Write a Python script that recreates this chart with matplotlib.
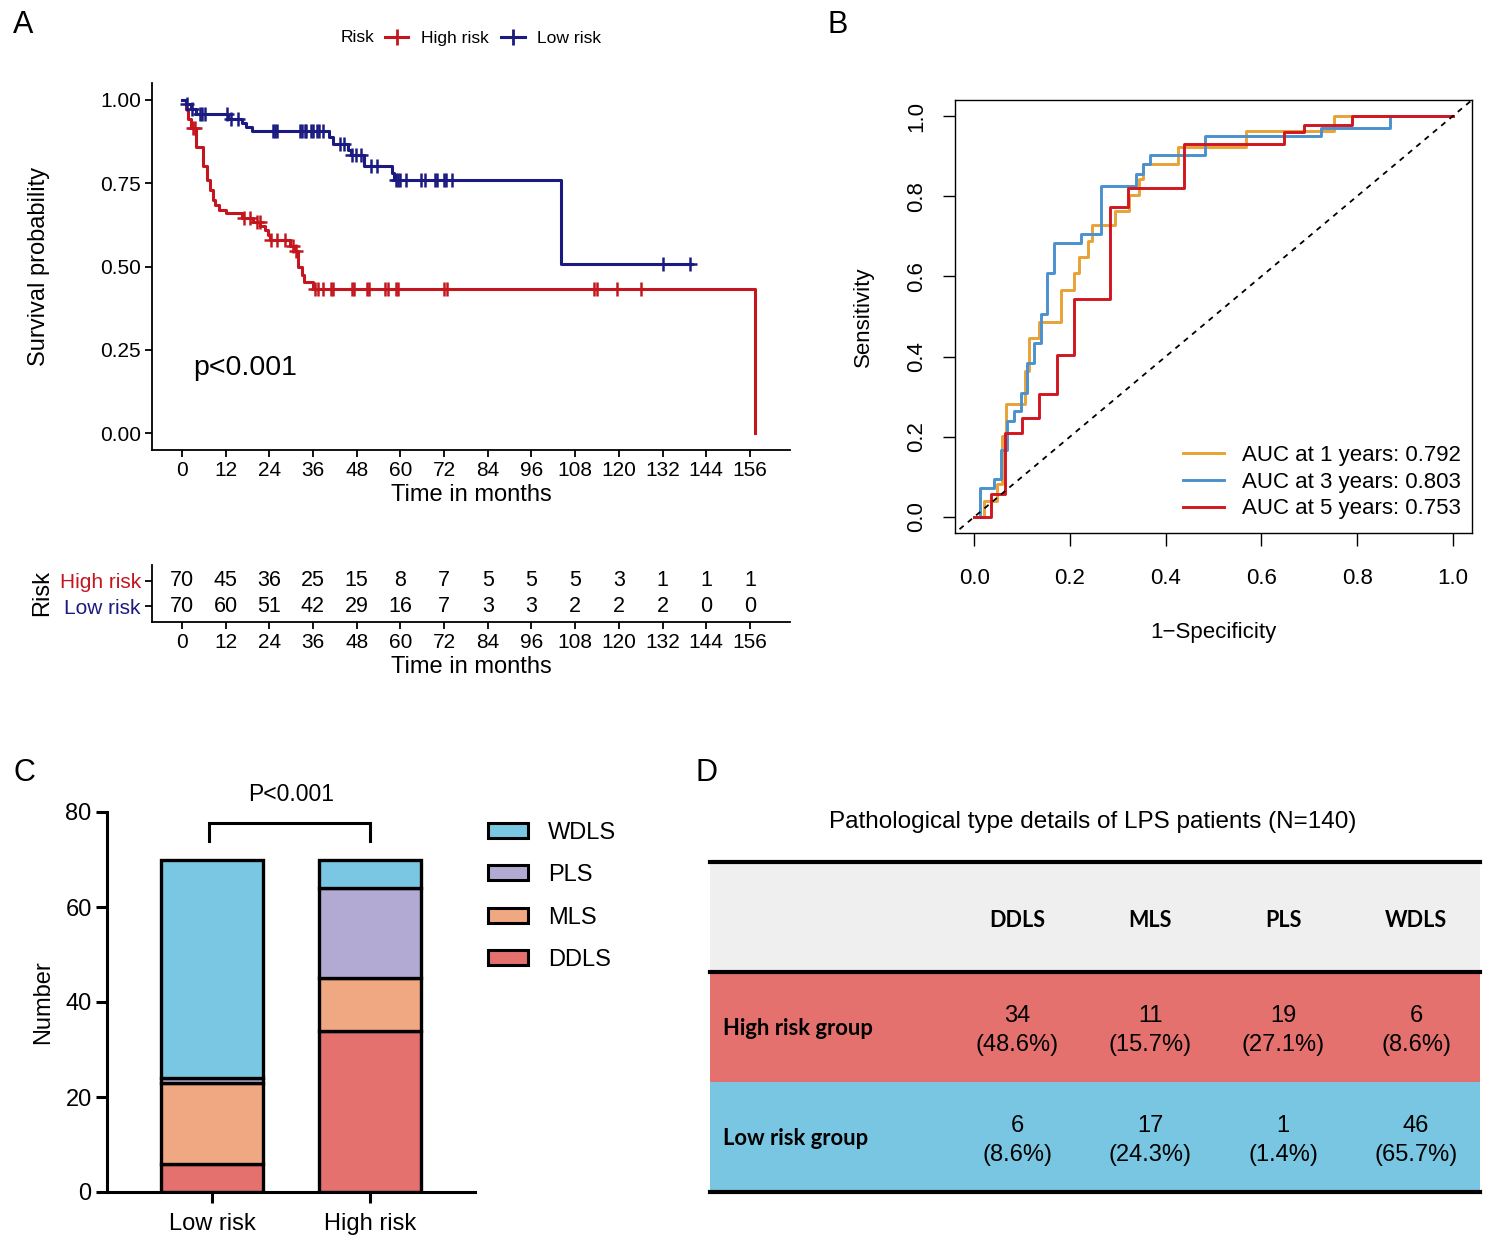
import numpy as np
import matplotlib
matplotlib.use("Agg")
import matplotlib.pyplot as plt
from matplotlib.lines import Line2D
from matplotlib.patches import Patch

plt.rcParams['font.family'] = ['Liberation Sans', 'DejaVu Sans']

# ---------------- Panel A: Kaplan-Meier data ----------------
month_ticks = list(range(0, 157, 12))

high_times = [0, 1.0, 1.8, 2.5, 4.0, 5.8, 7.0, 7.8, 8.5, 9.2, 10.3, 12.0, 16.5, 19.6,
              21.5, 22.8, 23.7, 24.3, 29.7, 31.2, 32.0, 32.9, 33.6, 36.0, 157.5]
high_surv = [1.0, 0.971, 0.943, 0.914, 0.857, 0.80, 0.76, 0.73, 0.70, 0.685, 0.67, 0.66,
             0.646, 0.632, 0.62, 0.61, 0.595, 0.58, 0.56, 0.545, 0.50, 0.475, 0.455, 0.434, 0.0]
high_censor = [3.0, 3.5, 17.0, 18.7, 20.5, 21.4, 24.6, 26.0, 28.3, 30.5, 31.4, 36.6, 37.3,
               38.8, 41.0, 41.6, 46.8, 47.3, 50.8, 51.3, 55.9, 56.5, 58.8, 59.3, 72.1, 72.8,
               113.2, 114.1, 119.6, 126.1]

low_times = [0, 1.2, 2.5, 3.8, 12.7, 16.4, 17.6, 19.3, 40.5, 41.4, 45.6, 46.5, 50.1,
             57.6, 58.2, 104.0, 140.0]
low_surv = [1.0, 0.986, 0.971, 0.957, 0.943, 0.929, 0.917, 0.906, 0.887, 0.866, 0.850,
            0.833, 0.80, 0.78, 0.759, 0.506, 0.506]
low_censor = [1.5, 2.8, 4.9, 5.6, 6.4, 12.3, 13.6, 15.5, 25.1, 25.7, 26.2, 32.5, 33.1, 33.7,
              34.2, 35.4, 35.9, 37.1, 37.7, 38.8, 43.4, 44.5, 46.8, 47.9, 49.1, 51.9, 53.6,
              58.8, 59.3, 59.9, 61.6, 65.6, 66.7, 69.6, 70.2, 71.9, 72.5, 74.2, 132.1, 139.5]

at_risk_high = [70, 45, 36, 25, 15, 8, 7, 5, 5, 5, 3, 1, 1, 1]
at_risk_low = [70, 60, 51, 42, 29, 16, 7, 3, 3, 2, 2, 2, 0, 0]

# ---------------- Panel B: time-dependent ROC ----------------
roc_fpr_1y = [0, .0216, .0467, .0575, .0668, .1063, .1149, .1365, .1810, .2083, .2191,
              .2385, .2464, .2945, .3233, .3434, .3520, .4260, .5675, .7507, 1.0]
roc_tpr_1y = [0, .0398, .0813, .2015, .2828, .3632, .4453, .4851, .5655, .6078, .6493,
              .6882, .7280, .7637, .8027, .8441, .8814, .9229, .9627, 1.0, 1.0]
roc_fpr_3y = [0, .0129, .0417, .0560, .0682, .0826, .0970, .1099, .1243, .1387, .1530,
              .1667, .2241, .2658, .3376, .3520, .3664, .4813, .7241, .8678, 1.0]
roc_tpr_3y = [0, .0730, .0954, .1658, .2388, .2637, .3093, .3839, .4337, .5066, .6078,
              .6824, .7056, .8259, .8549, .8798, .9022, .9502, .9710, 1.0, 1.0]
roc_fpr_5y = [0, .0345, .0647, .1006, .1365, .1724, .2083, .2838, .3218, .4382, .6466,
              .6897, .7888, 1.0]
roc_tpr_5y = [0, .0564, .2098, .2471, .3076, .4030, .5439, .7720, .8217, .9312, .9602,
              .9784, 1.0, 1.0]
auc_years = [1, 3, 5]
auc_values = [0.792, 0.803, 0.753]

# ---------------- Panel C / D: pathological types ----------------
groups = ['Low risk', 'High risk']
path_types = ['DDLS', 'MLS', 'PLS', 'WDLS']
counts_low = [6, 17, 1, 46]
counts_high = [34, 11, 19, 6]

RED = '#C4161F'
NAVY = '#1A1A80'
type_colors = {'DDLS': '#E4716E', 'MLS': '#EFA882', 'PLS': '#B3AAD4', 'WDLS': '#79C7E3'}
roc_colors = ['#E9A235', '#4A91CE', '#D0161F']

W, H = 1500, 1247
fig = plt.figure(figsize=(W / 100, H / 100), dpi=100)


def rect(x0, y0, x1, y1):
    # pixel box (top-left origin) -> figure fraction
    return [x0 / W, 1 - y1 / H, (x1 - x0) / W, (y1 - y0) / H]


def surv_at(times, surv, t):
    i = np.searchsorted(times, t, side='right') - 1
    return surv[i]


# ================= Panel A =================
ax_km = fig.add_axes(rect(152, 83, 790, 450))
xlim_km = (-8.2, 167)
for times, surv, cens, col in [(high_times, high_surv, high_censor, RED),
                               (low_times, low_surv, low_censor, NAVY)]:
    ax_km.step(times, surv, where='post', color=col, lw=2.2)
    cy = [surv_at(times, surv, c) for c in cens]
    ax_km.plot(cens, cy, ls='none', marker='+', ms=10, mew=1.8, color=col)
ax_km.set_xlim(*xlim_km)
ax_km.set_ylim(-0.05, 1.05)
ax_km.set_xticks(month_ticks)
ax_km.set_yticks([0, 0.25, 0.5, 0.75, 1.0])
ax_km.set_yticklabels(['0.00', '0.25', '0.50', '0.75', '1.00'])
ax_km.tick_params(labelsize=15, length=5, width=1.3, pad=3)
for s in ['top', 'right']:
    ax_km.spines[s].set_visible(False)
for s in ['left', 'bottom']:
    ax_km.spines[s].set_linewidth(1.3)
ax_km.set_xlabel('Time in months', fontsize=17, labelpad=3)
ax_km.set_ylabel('Survival probability', fontsize=17, labelpad=36)
ax_km.text(3, 0.195, 'p<0.001', fontsize=20.5, va='center', ha='left')

# legend on top
fig.text(341 / W, 1 - 38 / H, 'Risk', fontsize=12.6, va='center', ha='left')
km_handles = [Line2D([], [], color=RED, lw=2.2, marker='+', ms=12, mew=2),
              Line2D([], [], color=NAVY, lw=2.2, marker='+', ms=12, mew=2)]
fig.legend(km_handles, ['High risk', 'Low risk'], ncol=2, frameon=False,
           loc='center', bbox_to_anchor=(493 / W, 1 - 38 / H), fontsize=12.6,
           handlelength=1.35, handletextpad=0.7, columnspacing=0.75,
           borderpad=0, borderaxespad=0)

# risk table
ax_tab = fig.add_axes(rect(152, 565, 790, 622))
ax_tab.set_xlim(*xlim_km)
ax_tab.set_ylim(0.4, 2.6)
for t, nh, nl in zip(month_ticks, at_risk_high, at_risk_low):
    ax_tab.text(t, 2, str(nh), ha='center', va='center', fontsize=15.5)
    ax_tab.text(t, 1, str(nl), ha='center', va='center', fontsize=15.5)
ax_tab.set_xticks(month_ticks)
ax_tab.set_yticks([2, 1])
ax_tab.set_yticklabels(['High risk', 'Low risk'])
for lab, col in zip(ax_tab.get_yticklabels(), [RED, NAVY]):
    lab.set_color(col)
ax_tab.tick_params(labelsize=15, length=5, width=1.3, pad=3)
for s in ['top', 'right']:
    ax_tab.spines[s].set_visible(False)
for s in ['left', 'bottom']:
    ax_tab.spines[s].set_linewidth(1.3)
ax_tab.set_xlabel('Time in months', fontsize=17, labelpad=3)
ax_tab.set_ylabel('Risk', fontsize=17, labelpad=5)

# ================= Panel B =================
ax_roc = fig.add_axes(rect(955, 100, 1472, 533))
for fpr, tpr, col in zip([roc_fpr_1y, roc_fpr_3y, roc_fpr_5y],
                         [roc_tpr_1y, roc_tpr_3y, roc_tpr_5y], roc_colors):
    ax_roc.step(fpr, tpr, where='post', color=col, lw=2.1)
ax_roc.plot([-0.1, 1.1], [-0.1, 1.1], color='black', lw=1.3, ls=(0, (3, 3)))
ax_roc.set_xlim(-0.04, 1.04)
ax_roc.set_ylim(-0.04, 1.04)
ticks_b = [0, 0.2, 0.4, 0.6, 0.8, 1.0]
ax_roc.set_xticks(ticks_b)
ax_roc.set_yticks(ticks_b)
ax_roc.set_xticklabels([f'{v:.1f}' for v in ticks_b])
ax_roc.set_yticklabels([f'{v:.1f}' for v in ticks_b], rotation=90, va='center')
ax_roc.tick_params(labelsize=16, length=9, width=1.0)
ax_roc.tick_params(axis='x', pad=16)
ax_roc.tick_params(axis='y', pad=11)
for s in ax_roc.spines.values():
    s.set_linewidth(1.0)
ax_roc.set_xlabel('1\u2212Specificity', fontsize=16, labelpad=24)
ax_roc.set_ylabel('Sensitivity', fontsize=16, labelpad=23)
roc_handles = [Line2D([], [], color=c, lw=2.1) for c in roc_colors]
roc_labels = [f'AUC at {y} years: {a:.3f}' for y, a in zip(auc_years, auc_values)]
ax_roc.legend(roc_handles, roc_labels, loc='lower right', frameon=False, fontsize=16,
              handlelength=1.85, handletextpad=0.8, labelspacing=0.26,
              bbox_to_anchor=(1.0, 0.006), borderaxespad=0.3, borderpad=0.2)

# ================= Panel C =================
ax_bar = fig.add_axes(rect(107, 812, 475, 1192))
xpos = np.arange(len(groups))
stack = np.array([counts_low, counts_high])
bottom = np.zeros(len(groups))
for j, ptype in enumerate(path_types):
    ax_bar.bar(xpos, stack[:, j], bottom=bottom, width=0.646,
               color=type_colors[ptype], edgecolor='black', lw=2.4)
    bottom += stack[:, j]
ax_bar.set_xlim(-0.665, 1.665)
ax_bar.set_ylim(0, 80)
ax_bar.set_yticks([0, 20, 40, 60, 80])
ax_bar.set_xticks(xpos)
ax_bar.set_xticklabels(groups)
ax_bar.tick_params(labelsize=17, length=8, width=2.2)
ax_bar.tick_params(axis='y', pad=3)
ax_bar.tick_params(axis='x', pad=7)
for s in ['top', 'right']:
    ax_bar.spines[s].set_visible(False)
for s in ['left', 'bottom']:
    ax_bar.spines[s].set_linewidth(2.2)
ax_bar.set_ylabel('Number', fontsize=17, labelpad=8)
top = bottom.max()
ax_bar.plot([xpos[0] - 0.02, xpos[0] - 0.02, xpos[1], xpos[1]],
            [top + 3.9, top + 7.7, top + 7.7, top + 3.9],
            color='black', lw=2.2, clip_on=False, solid_joinstyle='miter')
ax_bar.text(xpos.mean(), top + 13.6, 'P<0.001', ha='center', va='center', fontsize=16.5)

bar_handles = [Patch(facecolor=type_colors[p], edgecolor='black', lw=2.2)
               for p in path_types[::-1]]
fig.legend(bar_handles, path_types[::-1], loc='upper left',
           bbox_to_anchor=(488 / W, 1 - 822 / H), frameon=False, fontsize=17,
           handlelength=1.7, handleheight=0.6, handletextpad=0.85, labelspacing=0.86,
           borderpad=0, borderaxespad=0)

# ================= Panel D =================
ax_d = fig.add_axes(rect(710, 862, 1480, 1192))
ax_d.set_xlim(0, 1)
ax_d.set_ylim(0, 3)
ax_d.axis('off')
row_colors = ['#EFEFEF', '#E4716E', '#79C6E2']
for k, col in enumerate(row_colors):
    ax_d.axhspan(2 - k, 3 - k, color=col, lw=0)
for yl in [3, 2, 0]:
    ax_d.axhline(yl, color='black', lw=3, clip_on=False)
col_x = [0.399 + 0.1727 * i for i in range(len(path_types))]
bold_font = ['Lato', 'DejaVu Sans']
for cx, ptype in zip(col_x, path_types):
    ax_d.text(cx, 2.47, ptype, ha='center', va='center', fontsize=15.5,
              fontweight='bold', family=bold_font)
for yrow, label, counts in [(1.5, 'High risk group', counts_high),
                            (0.5, 'Low risk group', counts_low)]:
    ax_d.text(0.017, yrow - 0.01, label, ha='left', va='center', fontsize=15.8,
              fontweight='bold', family=bold_font)
    n = sum(counts)
    for cx, c in zip(col_x, counts):
        ax_d.text(cx, yrow - 0.03, f'{c}\n({100 * c / n:.1f}%)', ha='center', va='center',
                  fontsize=17, linespacing=1.4)
fig.text(1093 / W, 1 - 822 / H, 'Pathological type details of LPS patients (N=140)',
         ha='center', va='center', fontsize=17.5)

# panel letters
for letter, (px, py) in {'A': (23, 25), 'B': (838, 25), 'C': (24, 773), 'D': (706, 773)}.items():
    fig.text(px / W, 1 - py / H, letter, fontsize=22, ha='center', va='center')

fig.savefig('out.png', dpi=100)
